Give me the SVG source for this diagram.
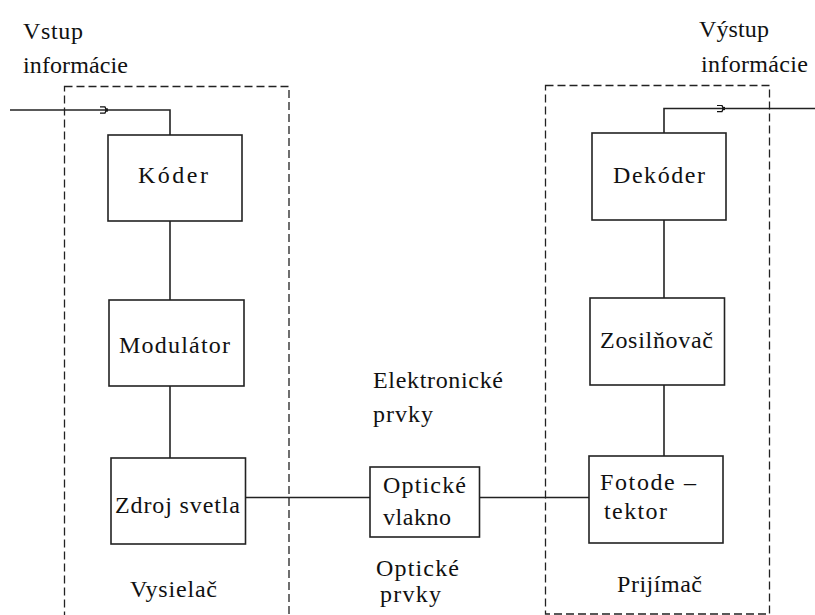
<svg xmlns="http://www.w3.org/2000/svg" width="815" height="615" viewBox="0 0 815 615">
  <style>
    .frame { fill: none; stroke: #222; stroke-width: 1.3; stroke-dasharray: 8 4; }
    .block rect { fill: #fff; stroke: #222; stroke-width: 1.6; }
    .wire { fill: none; stroke: #222; stroke-width: 1.6; }
    text { fill: #111; }
  </style>
  <defs>
    <marker id="tip" viewBox="0 0 10 10" refX="10" refY="5" markerWidth="9" markerHeight="8" markerUnits="userSpaceOnUse" orient="auto">
      <path d="M0,1.2 H6.2 L8,5 L6.2,8.8 H0" fill="none" stroke="#111" stroke-width="1.6"/>
      <rect x="7" y="3" width="3" height="4" fill="#111"/>
    </marker>
  </defs>

  <rect width="815" height="615" fill="#fff"/>

  <g font-family="Liberation Serif, Times New Roman, serif" font-size="24">
  <!-- transmitter / receiver frames -->
  <g id="vysielac">
    <rect class="frame" x="64.5" y="86.5" width="224.5" height="540"/>
    <text x="130" y="597" textLength="87">Vysielač</text>
  </g>
  <g id="prijimac">
    <rect class="frame" x="545.5" y="85.5" width="224" height="528.5"/>
    <text x="617" y="592" textLength="85">Prijímač</text>
  </g>

  <!-- free labels -->
  <g id="vstup">
    <text x="23" y="39" textLength="60">Vstup</text>
    <text x="23" y="73" textLength="105">informácie</text>
  </g>
  <g id="vystup">
    <text x="699" y="37" textLength="70">Výstup</text>
    <text x="701" y="72" textLength="107">informácie</text>
  </g>
  <g id="elektronicke">
    <text x="373" y="388" textLength="130">Elektronické</text>
    <text x="373" y="422" textLength="60">prvky</text>
  </g>
  <g id="opticke">
    <text x="376" y="576" textLength="83">Optické</text>
    <text x="380" y="602" textLength="61">prvky</text>
  </g>

  <!-- connectors -->
  <g id="connectors">
    <line class="wire" x1="10" y1="110" x2="108" y2="110" marker-end="url(#tip)"/>
    <polyline class="wire" points="106,110 170,110 170,135"/>
    <line class="wire" x1="170" y1="221" x2="170" y2="300"/>
    <line class="wire" x1="170" y1="386" x2="170" y2="458"/>
    <line class="wire" x1="245.5" y1="497.5" x2="370" y2="497.5"/>
    <line class="wire" x1="479.5" y1="497.5" x2="589" y2="497.5"/>
    <line class="wire" x1="664" y1="385" x2="664" y2="456"/>
    <line class="wire" x1="664" y1="220" x2="664" y2="298"/>
    <polyline class="wire" points="664,133 664,108.5 725,108.5" marker-end="url(#tip)"/>
    <line class="wire" x1="723" y1="108.5" x2="815" y2="108.5"/>
  </g>

  <!-- blocks -->
  <g id="koder" class="block">
    <rect x="108" y="135" width="134" height="86"/>
    <text x="138" y="183" textLength="70">Kóder</text>
  </g>
  <g id="modulator" class="block">
    <rect x="109" y="300" width="135" height="86"/>
    <text x="119" y="353" textLength="111">Modulátor</text>
  </g>
  <g id="zdroj" class="block">
    <rect x="111" y="458" width="134.5" height="86"/>
    <text x="115" y="513" textLength="125">Zdroj svetla</text>
  </g>
  <g id="vlakno" class="block">
    <rect x="370" y="467" width="109.5" height="70"/>
    <text x="383" y="493" textLength="83">Optické</text>
    <text x="383" y="525" textLength="68">vlakno</text>
  </g>
  <g id="dekoder" class="block">
    <rect x="592" y="133" width="134" height="87"/>
    <text x="613" y="183" textLength="92">Dekóder</text>
  </g>
  <g id="zosilnovac" class="block">
    <rect x="590" y="298" width="134.5" height="87"/>
    <text x="600" y="348" textLength="113">Zosilňovač</text>
  </g>
  <g id="fotodetektor" class="block">
    <rect x="589" y="456" width="134" height="87"/>
    <text x="600" y="490" textLength="96">Fotode –</text>
    <text x="604" y="519" textLength="63">tektor</text>
  </g>
  </g>
</svg>
